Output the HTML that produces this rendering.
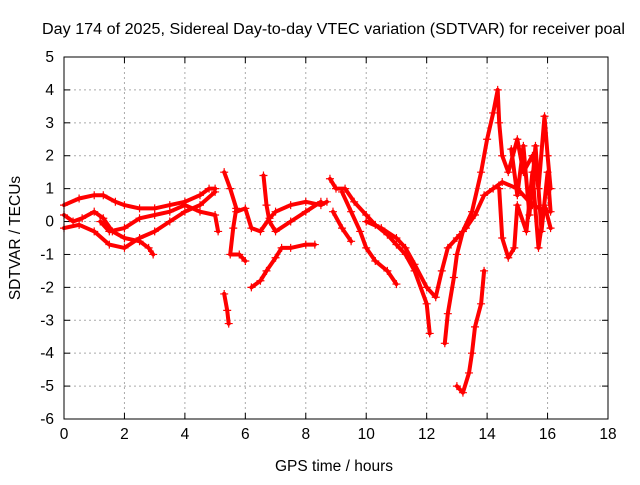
<!DOCTYPE html>
<html><head><meta charset="utf-8"><style>
body{margin:0;background:#fff;}
svg text{font-family:"Liberation Sans",sans-serif;font-size:15.5px;fill:#000;}
</style></head><body>
<svg id="chart" width="640" height="480">
<text x="42" y="34" textLength="583" lengthAdjust="spacingAndGlyphs">Day 174 of 2025, Sidereal Day-to-day VTEC variation (SDTVAR) for receiver poal</text>
<text x="334" y="471" text-anchor="middle">GPS time / hours</text>
<text transform="translate(20,238) rotate(-90)" text-anchor="middle">SDTVAR / TECUs</text>
<g id="grid"></g><g id="ticks"></g><g id="series"></g>
<rect x="64" y="57" width="544" height="362" fill="none" stroke="#000"/>
</svg>
<script>
const xTicks=[0,2,4,6,8,10,12,14,16,18];
const yTicks=[-6,-5,-4,-3,-2,-1,0,1,2,3,4,5];
const traceA_t=[0,0.5,1,1.3,1.7,2,2.5,3,3.5,4,4.5,4.8,5];
const traceA_v=[0.5,0.7,0.8,0.8,0.6,0.5,0.4,0.4,0.5,0.6,0.8,1.0,1.0];
const traceB_t=[0,0.3,0.6,1,1.3,1.6,2,2.5,2.8,2.95];
const traceB_v=[0.2,0,0.1,0.3,0.1,-0.3,-0.5,-0.6,-0.8,-1.0];
const traceC_t=[0,0.5,1,1.5,2,2.5,3,3.5,4,4.5,5];
const traceC_v=[-0.2,-0.1,-0.3,-0.7,-0.8,-0.5,-0.3,0,0.3,0.5,0.9];
const traceD_t=[1.2,1.5,2,2.5,3,3.5,4,4.5,5,5.1];
const traceD_v=[0,-0.3,-0.2,0.1,0.2,0.3,0.5,0.3,0.2,-0.3];
const traceE_t=[5.3,5.4,5.45];
const traceE_v=[-2.2,-2.7,-3.1];
const traceF_t=[5.3,5.5,5.7,5.6,5.5,5.8,6];
const traceF_v=[1.5,1.0,0.4,-0.2,-1.0,-1.0,-1.2];
const traceG_t=[5.7,6,6.2,6.5,6.8,7,7.5,8,8.5,8.7];
const traceG_v=[0.3,0.4,-0.2,-0.3,0.1,0.3,0.5,0.6,0.5,0.6];
const traceH_t=[6.2,6.5,6.7,7,7.2,7.5,8,8.3];
const traceH_v=[-2.0,-1.8,-1.5,-1.1,-0.8,-0.8,-0.7,-0.7];
const traceI_t=[6.6,6.7,6.8,7,7.5,8,8.5];
const traceI_v=[1.4,0.5,0.0,-0.3,0,0.3,0.6];
const traceJ_t=[8.8,9,9.3,9.6,10,10.3,10.7,11,11.3,11.6,12,12.1];
const traceJ_v=[1.3,1.0,1.0,0.6,0.2,-0.1,-0.4,-0.7,-1.0,-1.5,-2.5,-3.4];
const traceK_t=[8.9,9.2,9.5];
const traceK_v=[0.3,-0.2,-0.6];
const traceL_t=[9.2,9.5,9.8,10,10.3,10.7,11];
const traceL_v=[0.9,0.3,-0.3,-0.8,-1.2,-1.5,-1.9];
const traceM_t=[10,10.5,11,11.3,11.6,12,12.3,12.5,12.7,13,13.3,13.6,13.9,14.2,14.5,15,15.5,16];
const traceM_v=[0,-0.2,-0.5,-0.8,-1.3,-2.0,-2.3,-1.5,-0.8,-0.5,-0.2,0.2,0.8,1.0,1.2,1.0,0.5,0.3];
const traceN_t=[12.6,12.7,12.9,13,13.2,13.5,13.8,14,14.2,14.35,14.4,14.5,14.7,15,15.2,15.5,15.7,15.9,16,16.1];
const traceN_v=[-3.7,-2.8,-1.7,-1.0,-0.3,0.3,1.5,2.5,3.3,4.0,3.0,2.0,1.5,2.5,1.5,2.0,1.0,3.2,2.0,1.0];
const traceO_t=[13,13.2,13.4,13.5,13.6,13.8,13.9];
const traceO_v=[-5.0,-5.2,-4.6,-4.0,-3.2,-2.5,-1.5];
const traceP_t=[14.4,14.5,14.7,14.9,15,15.3,15.5,15.7,15.9,16.1];
const traceP_v=[1.0,-0.5,-1.1,-0.8,0.5,-0.3,1.5,-0.8,0.5,-0.2];
const traceQ_t=[14.8,15,15.2,15.4,15.6,15.8,16,16.1];
const traceQ_v=[2.2,0.8,2.3,0.2,2.3,-0.3,1.5,0.3];
const traces=[[traceA_t,traceA_v],[traceB_t,traceB_v],[traceC_t,traceC_v],[traceD_t,traceD_v],[traceE_t,traceE_v],[traceF_t,traceF_v],[traceG_t,traceG_v],[traceH_t,traceH_v],[traceI_t,traceI_v],[traceJ_t,traceJ_v],[traceK_t,traceK_v],[traceL_t,traceL_v],[traceM_t,traceM_v],[traceN_t,traceN_v],[traceO_t,traceO_v],[traceP_t,traceP_v],[traceQ_t,traceQ_v]];
const X0=64,X1=608,Y0=419,Y1=57;
function xs(t){return X0+(t-0)/(18-0)*(X1-X0);}
function ys(v){return Y0-(v+6)/(11)*(Y0-Y1);}
const NS="http://www.w3.org/2000/svg";
function mk(tag,attrs,parent){const e=document.createElementNS(NS,tag);for(const k in attrs)e.setAttribute(k,attrs[k]);parent.appendChild(e);return e;}
const grid=document.getElementById('grid'),ticks=document.getElementById('ticks'),series=document.getElementById('series');
xTicks.forEach(t=>{const x=xs(t);
 if(t>0&&t<18){const g=mk('line',{x1:x,x2:x,y1:Y1,y2:Y0,stroke:'#aaa','stroke-dasharray':'2,3'},grid);
 
 }
 mk('line',{x1:x,x2:x,y1:Y0,y2:Y0-6,stroke:'#000'},ticks);
 mk('line',{x1:x,x2:x,y1:Y1,y2:Y1+6,stroke:'#000'},ticks);
 const l=mk('text',{x:x,y:Y0+20,'text-anchor':'middle'},ticks);l.textContent=t;
 
 
});
yTicks.forEach(v=>{const y=ys(v);
 if(v>-6&&v<5){const g=mk('line',{x1:X0,x2:X1,y1:y,y2:y,stroke:'#aaa','stroke-dasharray':'2,3'},grid);
 
 }
 mk('line',{x1:X0,x2:X0+6,y1:y,y2:y,stroke:'#000'},ticks);
 mk('line',{x1:X1,x2:X1-6,y1:y,y2:y,stroke:'#000'},ticks);
 const l=mk('text',{x:X0-10,y:y+5,'text-anchor':'end'},ticks);l.textContent=v;
 
 
});
traces.forEach(([ts,vs])=>{
 const pts=ts.map((t,i)=>xs(t).toFixed(1)+','+ys(vs[i]).toFixed(1)).join(' ');
 const p=mk('polyline',{points:pts,fill:'none',stroke:'#f00','stroke-width':4,'stroke-linejoin':'round','stroke-linecap':'round'},series);
 
 
 ts.forEach((t,i)=>{const x=xs(t),y=ys(vs[i]);
  const m=mk('path',{d:`M${x-4},${y}H${x+4}M${x},${y-4}V${y+4}`,stroke:'#f00','stroke-width':1.2},series);
  
  
 });
});
</script>
</body></html>
